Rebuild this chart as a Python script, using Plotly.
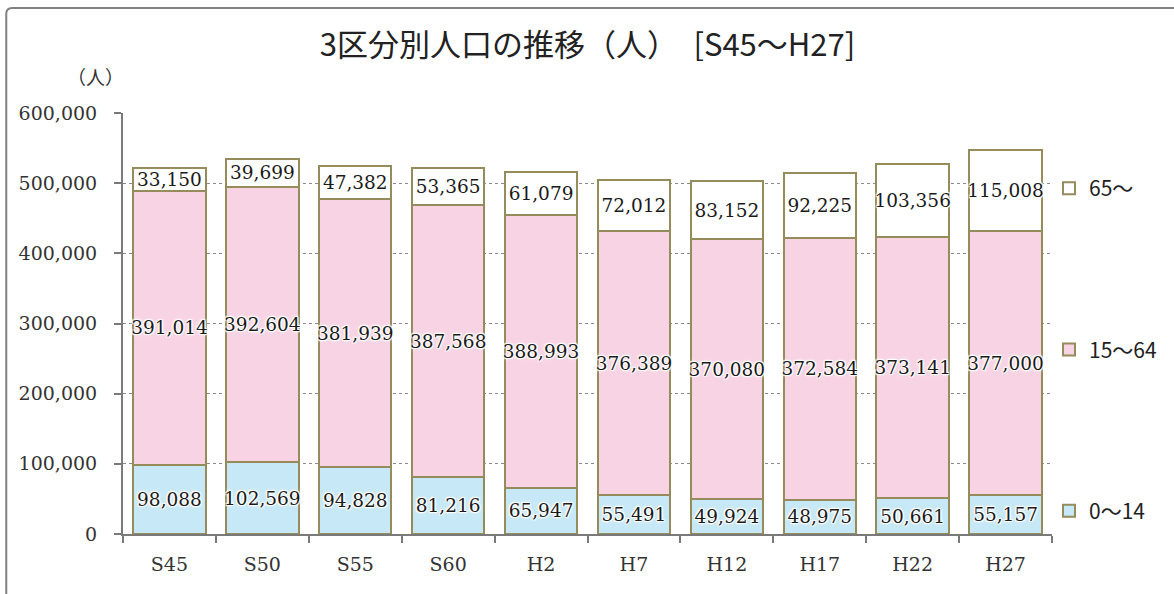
import plotly.graph_objects as go

categories = ["S45", "S50", "S55", "S60", "H2", "H7", "H12", "H17", "H22", "H27"]
age_0_14 = [98088, 102569, 94828, 81216, 65947, 55491, 49924, 48975, 50661, 55157]
age_15_64 = [391014, 392604, 381939, 387568, 388993, 376389, 370080, 372584, 373141, 377000]
age_65 = [33150, 39699, 47382, 53365, 61079, 72012, 83152, 92225, 103356, 115008]
series_names = ["0～14", "15～64", "65～"]
series_colors = ["#c6e8f7", "#f8d3e4", "#ffffff"]
legend_ranks = [3, 2, 1]
y_ticks = [0, 100000, 200000, 300000, 400000, 500000, 600000]

W, H = 1174, 594
ML, MR, MT, MB = 123, 120, 113, 60
pw = W - ML - MR
ph = H - MT - MB

halo = ("0 0 2px #fff, 1px 1px 1px #fff, -1px -1px 1px #fff, "
        "1px -1px 1px #fff, -1px 1px 1px #fff, 0 0 4px #fff")

fig = go.Figure()
for name, vals, col, rank in zip(series_names, [age_0_14, age_15_64, age_65], series_colors, legend_ranks):
    fig.add_trace(go.Bar(
        x=categories, y=vals, name=name,
        marker=dict(color=col, line=dict(color="#958b5b", width=2)),
        text=vals, texttemplate="%{y:,}",
        textposition="inside", insidetextanchor="middle",
        textangle=0, constraintext="none",
        textfont=dict(family="DejaVu Serif", size=18.5, color="#1a1a1a", shadow=halo),
        legendgroup=name, legendrank=rank,
    ))

fig.update_layout(
    width=W, height=H,
    margin=dict(l=ML, r=MR, t=MT, b=MB),
    barmode="stack", bargap=0.22,
    paper_bgcolor="white", plot_bgcolor="white",
    title=dict(text="3区分別人口の推移（人）　[S45～H27]",
               font=dict(family="Noto Sans CJK JP", size=31, color="#222"),
               x=0.5, xref="paper", xanchor="center", y=1 - 45 / H, yanchor="middle"),
    showlegend=True,
    legend=dict(x=1 - 3 / pw, xanchor="left", y=(H - MB - 168) / ph, yanchor="top",
                traceorder="grouped", tracegroupgap=131,
                font=dict(family="Noto Sans CJK JP", size=21, color="#222"),
                itemwidth=30, bgcolor="rgba(0,0,0,0)"),
    xaxis=dict(type="category", showline=True, linecolor="#7a7a7a", linewidth=2,
               ticks="outside", tickson="boundaries", ticklen=7, tickcolor="#7a7a7a", tickwidth=2,
               ticklabelstandoff=12,
               tickfont=dict(family="DejaVu Serif", size=19, color="#333"), showgrid=False),
    yaxis=dict(range=[0, 600000], tickvals=y_ticks, tickformat=",",
               showline=True, linecolor="#7a7a7a", linewidth=2,
               ticks="outside", ticklen=7, tickcolor="#7a7a7a", tickwidth=2,
               ticklabelstandoff=13,
               tickfont=dict(family="DejaVu Serif", size=19, color="#333"),
               showgrid=True, gridcolor="#8a8a8a", gridwidth=1, griddash="dot",
               zeroline=False),
    annotations=[dict(text="（人）", xref="paper", yref="paper",
                      x=(95 - ML) / pw, y=(H - MB - 77) / ph, xanchor="center", yanchor="middle",
                      showarrow=False,
                      font=dict(family="Noto Sans CJK JP", size=19, color="#333"))],
    shapes=[dict(type="path", xref="paper", yref="paper", layer="below",
                 path=f"M {(6 - ML) / pw} {-0.2} L {(6 - ML) / pw} {(H - MB - 14) / ph} "
                      f"Q {(6 - ML) / pw} {(H - MB - 8) / ph} {(12 - ML) / pw} {(H - MB - 8) / ph} "
                      f"L 1.2 {(H - MB - 8) / ph}",
                 line=dict(color="#808080", width=2))],
)

fig.write_html("out.html")
